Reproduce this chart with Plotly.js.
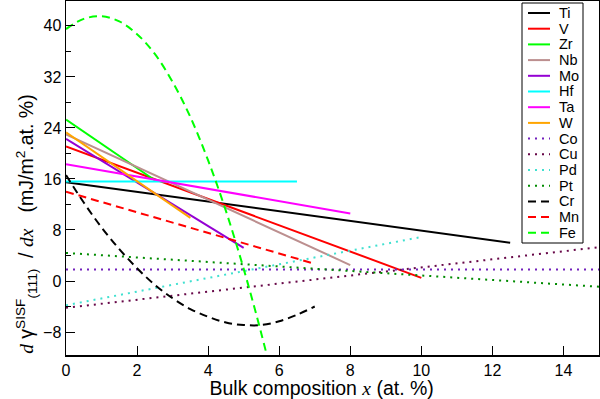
<!DOCTYPE html>
<html>
<head>
<meta charset="utf-8">
<script src="https://cdn.plot.ly/plotly-3.0.1.min.js"></script>
<style>html,body{margin:0;padding:0;background:#fff;}#chart{width:600px;height:399px;}</style>
</head>
<body>
<div id="chart"></div>
<script>
// Series data (x in at.%, y in mJ/m^2 per at.%)
const tiX = [0, 12.5],   tiY = [15.5, 6.0];
const vX  = [0, 10.0],   vY  = [21.1, 0.5];
const zrX = [0, 2.5],    zrY = [25.3, 15.8];
const nbX = [0, 8.0],    nbY = [23.0, 2.5];
const moX = [0, 5.0],    moY = [22.3, 5.2];
const hfX = [0, 6.5],    hfY = [15.6, 15.6];
const taX = [0, 8.0],    taY = [18.3, 10.6];
const wX  = [0, 3.5],    wY  = [23.3, 9.9];
const coX = [0, 15],     coY = [1.8, 1.8];
const cuX = [0, 15],     cuY = [-4.2, 5.3];
const pdX = [0, 10.0],   pdY = [-3.8, 6.9];
const ptX = [0, 15],     ptY = [4.4, -0.9];
const crX = [0, 0.5, 1, 1.5, 2, 2.5, 3, 3.5, 4, 4.5, 5, 5.5, 6, 6.5, 7];
const crY = [16.6, 12.3, 8.4, 5.0, 2.0, -0.6, -2.7, -4.4, -5.6, -6.5, -6.9, -6.9, -6.3, -5.3, -4.0];
const mnX = [0, 7.0],    mnY = [14.0, 2.7];
const feX = [0, 0.5, 1, 1.5, 2, 2.5, 3, 3.5, 4, 4.5, 5, 5.5, 5.8];
const feY = [39.5, 41.1, 41.5, 40.7, 38.7, 35.6, 31.2, 25.7, 18.9, 11.0, 1.9, -8.3, -15.0];

const yTickVals = [-8, 0, 8, 16, 24, 32, 40];
const xTickVals = [0, 2, 4, 6, 8, 10, 12, 14];

const DOT = '2px,5px';
const DASH = '8px,5px';
function tr(name, x, y, color, dash, shape) {
  return {x: x, y: y, name: name, type: 'scatter', mode: 'lines', showlegend: false,
    line: {color: color, width: 2, dash: dash || 'solid', shape: shape || 'linear'}};
}
const data = [
  tr('Ti', tiX, tiY, '#000000'),
  tr('V',  vX,  vY,  '#ff0000'),
  tr('Zr', zrX, zrY, '#00ff00'),
  tr('Nb', nbX, nbY, '#bc8f8f'),
  tr('Mo', moX, moY, '#9400d3'),
  tr('Hf', hfX, hfY, '#00ffff'),
  tr('Ta', taX, taY, '#ff00ff'),
  tr('W',  wX,  wY,  '#ffa500'),
  tr('Co', coX, coY, '#7221bc', DOT),
  tr('Cu', cuX, cuY, '#670748', DOT),
  tr('Pd', pdX, pdY, '#40e0d0', DOT),
  tr('Pt', ptX, ptY, '#008b00', DOT),
  tr('Cr', crX, crY, '#000000', DASH, 'spline'),
  tr('Mn', mnX, mnY, '#ff0000', DASH),
  tr('Fe', feX, feY, '#00ff00', DASH, 'spline')
];

// Compact legend box (xmgrace style), built from the trace list
const M = {l: 66, r: 1, t: 1, b: 44};
const PW = 600 - M.l - M.r, PH = 399 - M.t - M.b;
const px2x = p => (p - M.l) / PW;
const py2y = p => (399 - M.b - p) / PH;
const legL = 522, legR = 583, legT = 3, legB = 243, rowH = 15.7, row0 = 13;
const shapes = [{type: 'rect', xref: 'paper', yref: 'paper',
  x0: px2x(legL), x1: px2x(legR), y0: py2y(legB), y1: py2y(legT),
  line: {color: '#000', width: 1}, fillcolor: '#fff', layer: 'above'}];
const annotations = [];
data.forEach((t, i) => {
  const yy = py2y(row0 + i * rowH);
  shapes.push({type: 'line', xref: 'paper', yref: 'paper', layer: 'above',
    x0: px2x(528), x1: px2x(550), y0: yy, y1: yy,
    line: {color: t.line.color, width: 2, dash: t.line.dash}});
  annotations.push({xref: 'paper', yref: 'paper', x: px2x(557), y: yy,
    xanchor: 'left', yanchor: 'middle', text: t.name, showarrow: false,
    font: {size: 14.5, color: '#000'}});
});

const ser = "font-family:'Liberation Serif'";
const sp = '&nbsp;';
const layout = {
  width: 600, height: 399,
  margin: M,
  paper_bgcolor: '#fff', plot_bgcolor: '#fff',
  font: {family: 'Liberation Sans, Arial, sans-serif', color: '#000', size: 16},
  showlegend: false,
  shapes: shapes,
  annotations: annotations,
  xaxis: {range: [0, 15], tickvals: xTickVals, ticks: 'inside', ticklen: 9, tickcolor: '#000',
    showline: true, linecolor: '#000', linewidth: 1.5, mirror: true, showgrid: false, zeroline: false,
    tickfont: {size: 16},
    title: {text: "Bulk composition <span style=\"" + ser + "\"><i>x</i></span> (at. %)" + sp.repeat(4), font: {size: 19.5}, standoff: 3}},
  yaxis: {range: [-11.6, 43.9], tickvals: yTickVals, ticks: 'inside', ticklen: 9, tickcolor: '#000',
    minor: {dtick: 4, ticks: 'inside', ticklen: 5, tickcolor: '#000'},
    showline: true, linecolor: '#000', linewidth: 1.5, mirror: true, showgrid: false, zeroline: false,
    tickfont: {size: 16},
    title: {text: "<span style=\"" + ser + "\"><i>d</i></span> γ<sup>SISF</sup><sub>(111)</sub>" + sp + sp + "/ <span style=\"" + ser + "\"><i>dx</i></span>" + sp + sp + sp + "(mJ/m<sup>2</sup>.at. %)" + sp.repeat(17),
      font: {size: 19.5}, standoff: 4}}
};
Plotly.newPlot('chart', data, layout, {displayModeBar: false, staticPlot: true});
</script>
</body>
</html>
